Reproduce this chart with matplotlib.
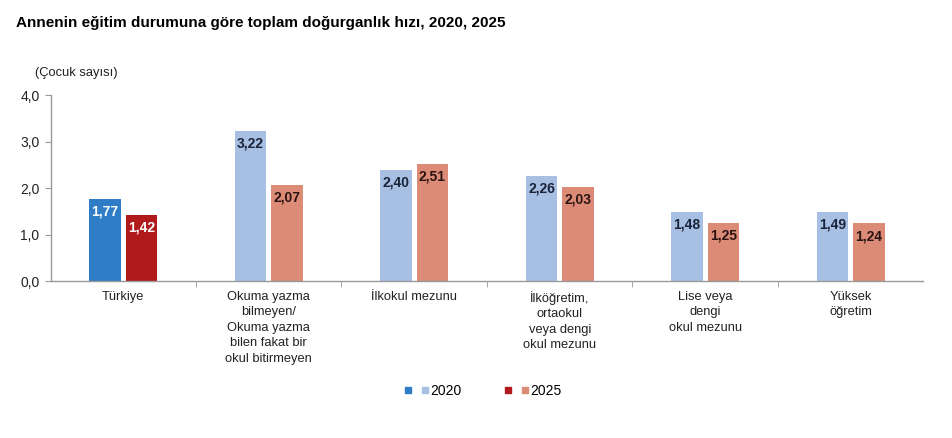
import matplotlib
matplotlib.use("Agg")
import matplotlib.pyplot as plt
from matplotlib.lines import Line2D
from matplotlib.legend_handler import HandlerTuple
import numpy as np

plt.rcParams['font.family'] = ['Liberation Sans', 'DejaVu Sans']

categories = ["Türkiye",
              "Okuma yazma\nbilmeyen/\nOkuma yazma\nbilen fakat bir\nokul bitirmeyen",
              "İlkokul mezunu",
              "İlköğretim,\nortaokul\nveya dengi\nokul mezunu",
              "Lise veya\ndengi\nokul mezunu",
              "Yüksek\nöğretim"]
values_2020 = [1.77, 3.22, 2.40, 2.26, 1.48, 1.49]
values_2025 = [1.42, 2.07, 2.51, 2.03, 1.25, 1.24]
yticks = [0.0, 1.0, 2.0, 3.0, 4.0]
ytick_labels = ["0,0", "1,0", "2,0", "3,0", "4,0"]
series_names = ["2020", "2025"]

dark_blue = "#2E7DC6"
light_blue = "#A6BFE2"
dark_red = "#B01A1A"
light_red = "#DB8B76"

fig = plt.figure(figsize=(9.53, 4.38), dpi=100)
ax = fig.add_axes([0.053, 0.358, 0.916, 0.425])

x = np.arange(len(categories))
w = 0.215
gap = 0.035
c20 = [dark_blue] + [light_blue] * (len(categories) - 1)
c25 = [dark_red] + [light_red] * (len(categories) - 1)
b1 = ax.bar(x - w / 2 - gap / 2, values_2020, w, color=c20)
b2 = ax.bar(x + w / 2 + gap / 2, values_2025, w, color=c25)

for bars, vals, lc in ((b1, values_2020, ["white"] + ["#1b2338"] * 5),
                       (b2, values_2025, ["white"] + ["#2a1412"] * 5)):
    for bar, v, col in zip(bars, vals, lc):
        ax.annotate(f"{v:.2f}".replace(".", ","),
                    (bar.get_x() + bar.get_width() / 2, v),
                    xytext=(0, -4), textcoords="offset points",
                    ha="center", va="top", fontsize=10, fontweight="bold", color=col)

ax.set_xlim(-0.5, len(categories) - 0.5)
ax.set_ylim(0, 4.0)
ax.set_yticks(yticks)
ax.set_yticklabels(ytick_labels, fontsize=10, color="#222222")
ax.set_xticks(x)
ax.set_xticklabels(categories, fontsize=9.3, color="#222222", linespacing=1.38, va="top")
ax.tick_params(axis="x", length=0, pad=7)
ax.set_xticks(np.arange(len(categories) - 1) + 0.5, minor=True)
ax.tick_params(axis="x", which="minor", length=4, color="#999999", direction="out")
ax.tick_params(axis="y", length=4, color="#999999", direction="out", pad=4)

for s in ("top", "right"):
    ax.spines[s].set_visible(False)
for s in ("left", "bottom"):
    ax.spines[s].set_color("#999999")
    ax.spines[s].set_linewidth(1.0)

fig.text(0.017, 0.948, "Annenin eğitim durumuna göre toplam doğurganlık hızı, 2020, 2025",
         fontsize=11, fontweight="bold", ha="left", va="center")
fig.text(0.037, 0.833, "(Çocuk sayısı)", fontsize=9.3, ha="left", va="center", color="#222222")

h = [(Line2D([], [], marker="s", ls="none", color=dark_blue, markersize=5),
      Line2D([], [], marker="s", ls="none", color=light_blue, markersize=5)),
     (Line2D([], [], marker="s", ls="none", color=dark_red, markersize=5),
      Line2D([], [], marker="s", ls="none", color=light_red, markersize=5))]
fig.legend(h, series_names, handler_map={tuple: HandlerTuple(ndivide=None, pad=0.8)},
           loc="center", bbox_to_anchor=(0.507, 0.107), ncol=2, frameon=False,
           fontsize=10, handlelength=1.7, handletextpad=0.15, columnspacing=3.1)

fig.savefig("out.png", dpi=100, facecolor="white")
